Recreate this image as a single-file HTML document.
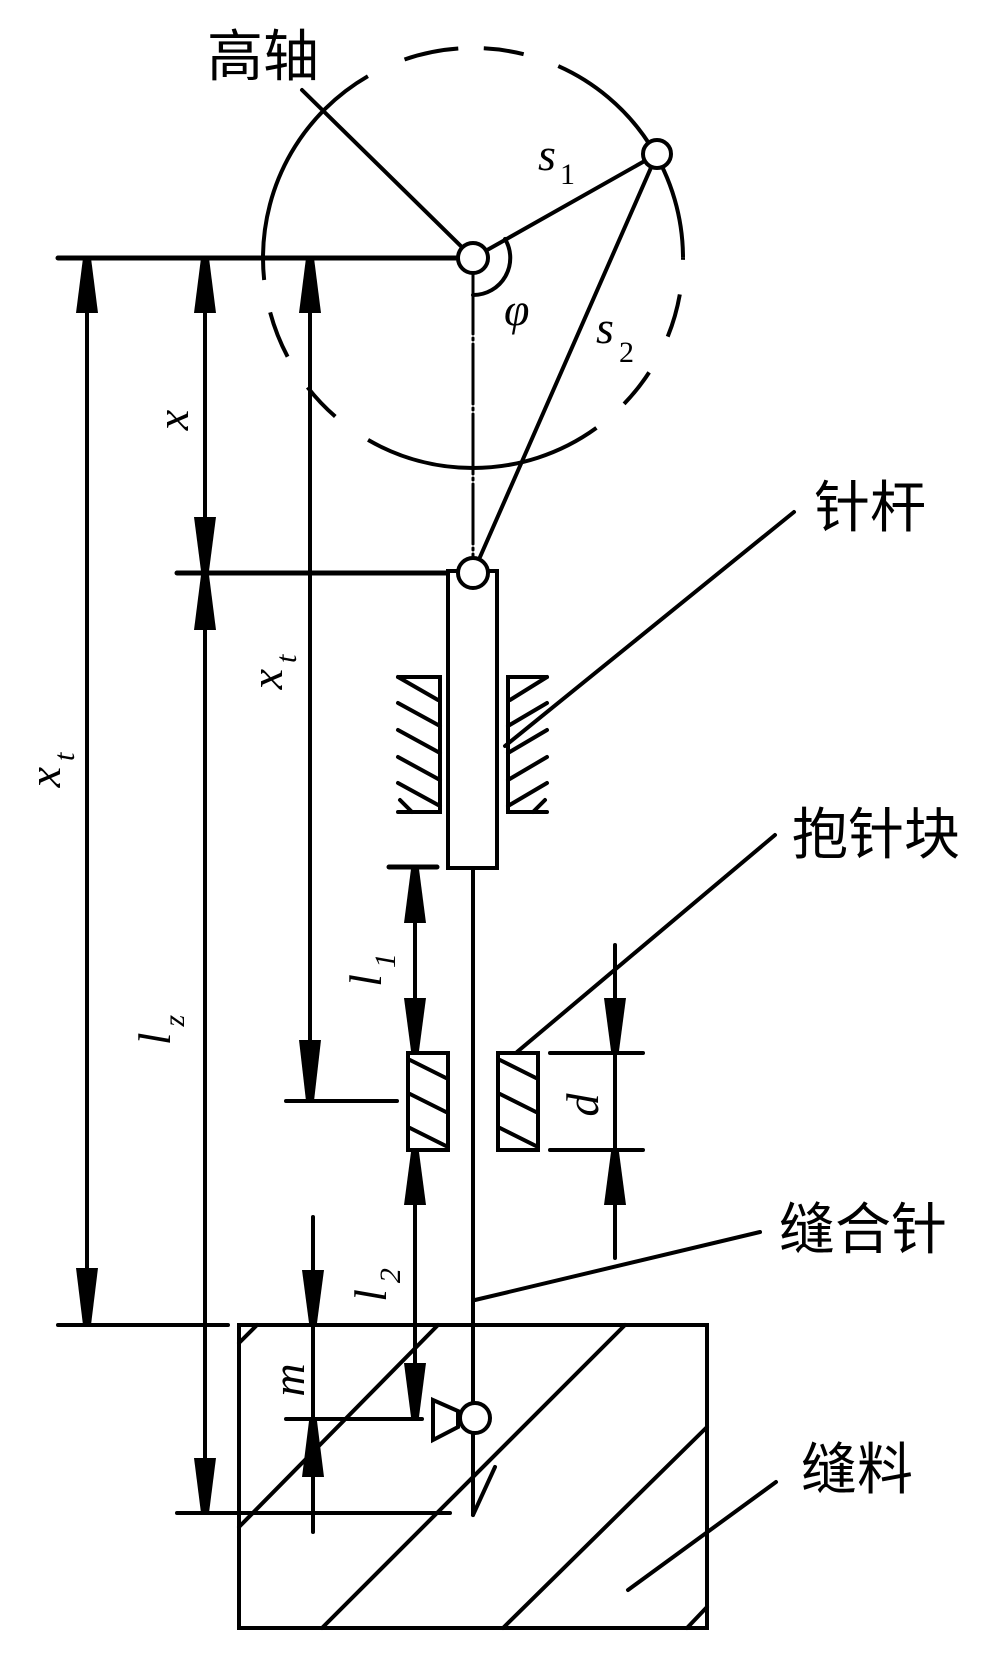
<!DOCTYPE html>
<html><head><meta charset="utf-8"><style>
html,body{margin:0;padding:0;background:#fff;}
svg{display:block;}
.v{font-family:"Liberation Serif",serif;font-style:italic;font-size:46px;fill:#000;}
.s{font-family:"Liberation Serif",serif;font-size:30px;fill:#000;}
.c{font-family:"Liberation Sans","Noto Sans CJK SC",sans-serif;font-size:56px;fill:#000;}
</style></head><body>
<svg width="992" height="1658" viewBox="0 0 992 1658" xmlns="http://www.w3.org/2000/svg">
<g stroke="#000" stroke-width="4" fill="none" stroke-linecap="round">
<circle cx="473" cy="258" r="210" pathLength="360" stroke-dasharray="0.5 9.5 12 11 11 10 66 11 11 10 13 9 66 11 15 7 11 10 66" stroke-linecap="butt"/>
<line x1="473" y1="274" x2="473" y2="558" stroke-width="3" stroke-dasharray="60 4 2 4"/>
<line x1="302" y1="90" x2="473" y2="258"/>
<line x1="473" y1="258" x2="657" y2="154"/>
<line x1="657" y1="154" x2="473" y2="573"/>
<path d="M505 239 A37 37 0 0 1 473 295"/>
<line x1="58" y1="258" x2="473" y2="258" stroke-width="5"/>
<line x1="177" y1="573" x2="473" y2="573" stroke-width="5"/>
<line x1="58" y1="1325" x2="228" y2="1325"/>
<line x1="177" y1="1513" x2="450" y2="1513"/>
<line x1="286" y1="1101" x2="397" y2="1101"/>
<line x1="286" y1="1419" x2="422" y2="1419"/>
<line x1="389" y1="867" x2="437" y2="867" stroke-width="5"/>
<line x1="550" y1="1053" x2="643" y2="1053"/>
<line x1="550" y1="1150" x2="643" y2="1150"/>
<line x1="87" y1="258" x2="87" y2="1325"/>
<line x1="205" y1="258" x2="205" y2="1513"/>
<line x1="310" y1="258" x2="310" y2="1101"/>
<line x1="415" y1="867" x2="415" y2="1053"/>
<line x1="415" y1="1150" x2="415" y2="1419"/>
<line x1="313" y1="1217" x2="313" y2="1532"/>
<line x1="615" y1="945" x2="615" y2="1258"/>
<rect x="448" y="571" width="49" height="297" fill="#fff"/>
<line x1="473" y1="868" x2="473" y2="1515"/>
<path d="M398 677 H440 V812 H398"/>
<path d="M398 677 L438 700 M398 703 L440 726 M398 730 L440 753 M398 757 L440 780 M398 783 L440 806 M400 800 L412 812"/>
<path d="M547 677 H508 V812 H547"/>
<path d="M547 677 L510 700 M547 703 L508 726 M547 730 L508 753 M547 757 L508 780 M547 783 L508 806 M545 800 L533 812"/>
<rect x="408" y="1053" width="40" height="97"/>
<rect x="498" y="1053" width="40" height="97"/>
<path d="M410 1060 L446 1078 M410 1094 L446 1112 M410 1128 L446 1146"/>
<path d="M500 1060 L536 1078 M500 1094 L536 1112 M500 1128 L536 1146"/>
<rect x="239" y="1325" width="468" height="303"/>
<path d="M239 1343 L257 1325 M239 1527 L438 1325 M322 1628 L625 1325 M503 1628 L707 1427 M687 1628 L707 1607"/>
<circle cx="475" cy="1418" r="15" fill="#fff"/>
<path d="M433 1400 L433 1440 L458 1427 L458 1411 Z"/>
<path d="M495 1467 L473 1515"/>
<line x1="794" y1="512" x2="505" y2="746"/>
<line x1="775" y1="835" x2="517" y2="1052"/>
<line x1="760" y1="1232" x2="475" y2="1300"/>
<line x1="776" y1="1482" x2="628" y2="1590"/>
<circle cx="473" cy="258" r="15" fill="#fff"/>
<circle cx="657" cy="154" r="14" fill="#fff"/>
<circle cx="473" cy="573" r="15" fill="#fff"/>
</g>
<g fill="#000">
<polygon points="83,258 91,258 98,313 76,313"/>
<polygon points="201,258 209,258 216,313 194,313"/>
<polygon points="306,258 314,258 321,313 299,313"/>
<polygon points="201,575 209,575 216,630 194,630"/>
<polygon points="411,869 419,869 426,923 404,923"/>
<polygon points="411,1152 419,1152 426,1205 404,1205"/>
<polygon points="309,1421 317,1421 324,1477 302,1477"/>
<polygon points="611,1152 619,1152 626,1205 604,1205"/>
<polygon points="83,1325 91,1325 98,1268 76,1268"/>
<polygon points="201,571 209,571 216,517 194,517"/>
<polygon points="201,1513 209,1513 216,1458 194,1458"/>
<polygon points="306,1101 314,1101 321,1040 299,1040"/>
<polygon points="411,1051 419,1051 426,998 404,998"/>
<polygon points="411,1417 419,1417 426,1363 404,1363"/>
<polygon points="309,1323 317,1323 324,1270 302,1270"/>
<polygon points="611,1051 619,1051 626,998 604,998"/>
</g>
<text class="c" x="207" y="76">高轴</text>
<text class="c" x="814" y="527">针杆</text>
<text class="c" x="792" y="854">抱针块</text>
<text class="c" x="779" y="1249">缝合针</text>
<text class="c" x="801" y="1489">缝料</text>
<text class="v" x="538" y="170">s</text><text class="s" x="560" y="184">1</text>
<text class="v" x="596" y="343">s</text><text class="s" x="619" y="362">2</text>
<text class="v" x="504" y="325">φ</text>
<text class="v" transform="translate(188,420) rotate(-90)" text-anchor="middle">x</text>
<text class="v" transform="translate(60,770) rotate(-90)" text-anchor="middle">x<tspan class="s" dy="14" dx="6">t</tspan></text>
<text class="v" transform="translate(282,672) rotate(-90)" text-anchor="middle">x<tspan class="s" dy="14" dx="6">t</tspan></text>
<text class="v" transform="translate(170,1030) rotate(-90)" text-anchor="middle">l<tspan class="s" dy="14" dx="6">z</tspan></text>
<text class="v" transform="translate(381,970) rotate(-90)" text-anchor="middle">l<tspan class="s" dy="14" dx="6">1</tspan></text>
<text class="v" transform="translate(386,1285) rotate(-90)" text-anchor="middle">l<tspan class="s" dy="14" dx="6">2</tspan></text>
<text class="v" transform="translate(304,1380) rotate(-90)" text-anchor="middle">m</text>
<text class="v" transform="translate(598,1105) rotate(-90)" text-anchor="middle">d</text>
</svg>
</body></html>
